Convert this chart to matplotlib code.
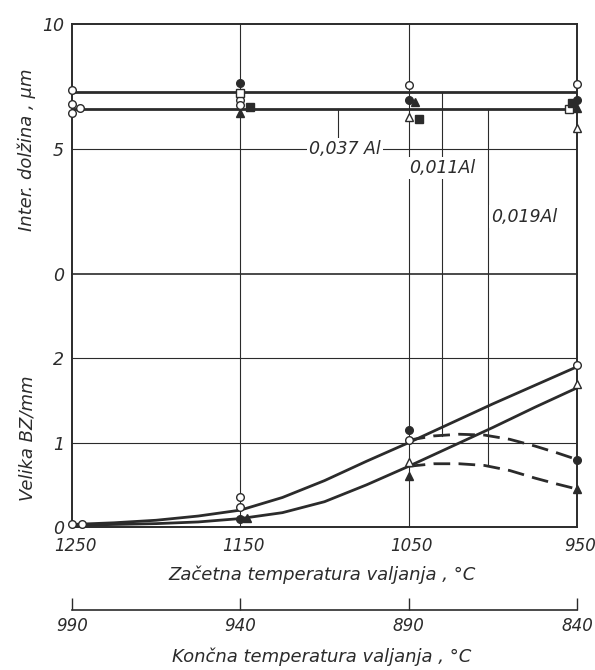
import matplotlib
matplotlib.use("Agg")
import matplotlib.pyplot as plt
from matplotlib.transforms import ScaledTranslation

plt.rcParams['font.family'] = ['DejaVu Sans']
plt.rcParams['font.style'] = 'italic'

INK = '#2b2b2b'

# ---------------- data ----------------
# x-axis (Začetna temperatura valjanja, °C)
x_ticks = [1250, 1150, 1050, 950]
x2_ticks = [990, 940, 890, 840]   # Končna temperatura valjanja, °C

# upper panel: interlamellar length, µm (horizontal mean lines)
line_x = [1250, 950]
upper_line_a = [7.3, 7.3]
upper_line_b = [6.6, 6.6]

# upper panel markers
up_open_circle_x = [1250, 1250, 1245, 1250, 1150, 1150, 1050, 950]
up_open_circle_y = [7.35, 6.8, 6.65, 6.45, 6.95, 6.75, 7.55, 7.6]
up_open_square_x = [1150, 955]
up_open_square_y = [7.25, 6.6]
up_open_tri_x = [1050, 950]
up_open_tri_y = [6.3, 5.85]
up_fill_circle_x = [1150, 1050, 950]
up_fill_circle_y = [7.65, 6.95, 6.95]
up_fill_square_x = [1144, 1044, 953]
up_fill_square_y = [6.68, 6.2, 6.85]
up_fill_tri_x = [1150, 1046, 950]
up_fill_tri_y = [6.45, 6.9, 6.65]

# lower panel: Velika BZ/mm curves
solid_a_x = [1250, 1225, 1200, 1175, 1150, 1125, 1100, 1075, 1050, 1025, 1000, 975, 950]
solid_a_y = [0.03, 0.05, 0.08, 0.13, 0.2, 0.35, 0.55, 0.78, 1.0, 1.23, 1.46, 1.68, 1.9]
solid_b_x = [1250, 1225, 1200, 1175, 1150, 1125, 1100, 1075, 1050, 1025, 1000, 975, 950]
solid_b_y = [0.02, 0.03, 0.04, 0.06, 0.1, 0.17, 0.3, 0.5, 0.72, 0.95, 1.18, 1.42, 1.65]
dash_a_x = [1050, 1035, 1020, 1005, 990, 975, 962, 950]
dash_a_y = [1.03, 1.08, 1.1, 1.09, 1.04, 0.96, 0.88, 0.8]
dash_b_x = [1050, 1035, 1020, 1005, 990, 975, 962, 950]
dash_b_y = [0.72, 0.75, 0.75, 0.73, 0.67, 0.58, 0.51, 0.45]

lo_open_circle_x = [1250, 1244, 1150, 1150, 1050, 950]
lo_open_circle_y = [0.03, 0.03, 0.35, 0.24, 1.03, 1.92]
lo_open_tri_x = [1050, 950]
lo_open_tri_y = [0.77, 1.7]
lo_fill_circle_x = [1150, 1050, 950]
lo_fill_circle_y = [0.1, 1.15, 0.8]
lo_fill_tri_x = [1146, 1050, 950]
lo_fill_tri_y = [0.11, 0.6, 0.45]

# annotation leaders (x position, upper start value, lower end value)
labels = ['0,037 Al', '0,011Al', '0,019Al']
leader_x = [1092, 1030, 1003]
leader_top = [6.6, 7.3, 6.6]
leader_bottom = [None, 1.08, 0.73]

# ---------------- figure ----------------
W, H = 595, 670
fig = plt.figure(figsize=(W / 100, H / 100), dpi=100)
L, R = 72 / W, 577 / W
ax_up = fig.add_axes([L, 1 - 274 / H, R - L, (274 - 24) / H])
ax_lo = fig.add_axes([L, 1 - 527 / H, R - L, (527 - 274) / H])
ax_2 = fig.add_axes([L, 1 - 610 / H, R - L, 0.001])
ax_lo.patch.set_visible(False)

for ax in (ax_up, ax_lo):
    ax.set_xlim(1250, 950)
    for s in ax.spines.values():
        s.set_color(INK)
        s.set_linewidth(1.4)
    ax.tick_params(length=0, colors=INK, labelsize=12.5, pad=6)
    for xv in (1150, 1050):
        ax.axvline(xv, color=INK, lw=0.8, zorder=1)

ax_up.set_ylim(0, 10)
ax_up.set_yticks([0, 5, 10])
ax_up.set_xticks([])
ax_up.axhline(5, color=INK, lw=0.8, zorder=1)
ax_up.spines['bottom'].set_linewidth(1.2)

ax_lo.set_ylim(0, 3.0)
ax_lo.set_yticks([0, 1, 2])
ax_lo.set_xticks(x_ticks)
ax_lo.tick_params(axis='x', labelsize=12, pad=7)
ax_lo.spines['top'].set_visible(False)
for yv in (1, 2):
    ax_lo.axhline(yv, color=INK, lw=0.8, zorder=1)

# italic labels sit slightly right of their ticks, as in the reference
shift = ScaledTranslation(3 / 100, 0, fig.dpi_scale_trans)
for lab in ax_lo.get_xticklabels():
    lab.set_transform(lab.get_transform() + shift)

# upper lines
ax_up.plot(line_x, upper_line_a, color=INK, lw=2.0, zorder=3)
ax_up.plot(line_x, upper_line_b, color=INK, lw=2.0, zorder=3)

mk = dict(ms=5.5, mew=1.0, ls='none', zorder=5, clip_on=False)
ax_up.plot(up_open_circle_x, up_open_circle_y, 'o', mfc='white', mec=INK, **mk)
ax_up.plot(up_open_square_x, up_open_square_y, 's', mfc='white', mec=INK, **mk)
ax_up.plot(up_open_tri_x, up_open_tri_y, '^', mfc='white', mec=INK, **mk)
ax_up.plot(up_fill_circle_x, up_fill_circle_y, 'o', mfc=INK, mec=INK, **mk)
ax_up.plot(up_fill_square_x, up_fill_square_y, 's', mfc=INK, mec=INK, **mk)
ax_up.plot(up_fill_tri_x, up_fill_tri_y, '^', mfc=INK, mec=INK, **mk)

# lower curves
ax_lo.plot(solid_a_x, solid_a_y, color=INK, lw=2.0, zorder=3)
ax_lo.plot(solid_b_x, solid_b_y, color=INK, lw=2.0, zorder=3)
ax_lo.plot(dash_a_x, dash_a_y, color=INK, lw=2.0, ls=(0, (6, 3)), zorder=3)
ax_lo.plot(dash_b_x, dash_b_y, color=INK, lw=2.0, ls=(0, (6, 3)), zorder=3)

ax_lo.plot(lo_open_circle_x, lo_open_circle_y, 'o', mfc='white', mec=INK, **mk)
ax_lo.plot(lo_open_tri_x, lo_open_tri_y, '^', mfc='white', mec=INK, **mk)
ax_lo.plot(lo_fill_circle_x, lo_fill_circle_y, 'o', mfc=INK, mec=INK, **mk)
ax_lo.plot(lo_fill_tri_x, lo_fill_tri_y, '^', mfc=INK, mec=INK, **mk)

# leaders and labels
for xv, top, bot in zip(leader_x, leader_top, leader_bottom):
    if bot is None:
        ax_up.plot([xv, xv], [top, 5.3], color=INK, lw=0.8, zorder=2)
    else:
        ax_up.plot([xv, xv], [top, 0], color=INK, lw=0.8, zorder=2)
        ax_lo.plot([xv, xv], [3.0, bot], color=INK, lw=0.8, zorder=2)

tb = dict(fc='white', ec='none', pad=1.5)
ax_up.text(1088, 5.0, labels[0], ha='center', va='center', fontsize=12.5,
           color=INK, bbox=tb, zorder=6)
ax_up.text(1030, 4.25, labels[1], ha='center', va='center', fontsize=12.5,
           color=INK, bbox=tb, zorder=6)
ax_up.text(1001, 2.3, labels[2], ha='left', va='center', fontsize=12.5,
           color=INK, bbox=tb, zorder=6)

# axis labels
fig.text(27 / W, 1 - 150 / H, 'Inter. dolžina , µm', rotation=90,
         ha='center', va='center', fontsize=13, color=INK)
fig.text(27 / W, 1 - 438 / H, 'Velika BZ/mm', rotation=90,
         ha='center', va='center', fontsize=13, color=INK)
fig.text(322 / W, 1 - 575 / H, 'Začetna temperatura valjanja , °C',
         ha='center', va='center', fontsize=13, color=INK)
fig.text(322 / W, 1 - 657 / H, 'Končna temperatura valjanja , °C',
         ha='center', va='center', fontsize=13, color=INK)

# secondary temperature scale
ax_2.set_xlim(990, 840)
ax_2.set_ylim(0, 1)
ax_2.set_yticks([])
ax_2.set_xticks(x2_ticks)
for k in ('top', 'left', 'right'):
    ax_2.spines[k].set_visible(False)
ax_2.spines['bottom'].set_color(INK)
ax_2.spines['bottom'].set_linewidth(1.2)
ax_2.patch.set_visible(False)
ax_2.tick_params(axis='x', direction='in', length=9, width=1.0, colors=INK,
                 labelsize=12, pad=5)

fig.savefig('out.png', dpi=100, facecolor='white')
